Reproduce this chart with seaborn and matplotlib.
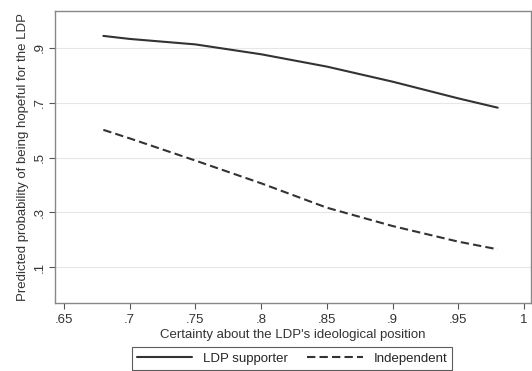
import pandas as pd
import numpy as np
import matplotlib
matplotlib.use("Agg")
import matplotlib.pyplot as plt
import seaborn as sns

# data
certainty = [0.68, 0.70, 0.75, 0.80, 0.85, 0.90, 0.95, 0.98]
ldp_supporter = [0.944, 0.933, 0.913, 0.877, 0.832, 0.777, 0.716, 0.682]
independent = [0.601, 0.570, 0.489, 0.406, 0.317, 0.250, 0.193, 0.165]
groups = ["LDP supporter", "Independent"]

df = pd.DataFrame({
    "x": certainty * 2,
    "y": ldp_supporter + independent,
    "group": [groups[0]] * len(certainty) + [groups[1]] * len(certainty),
})

sns.set_theme(style="white")
plt.rcParams["font.family"] = ["Liberation Sans", "DejaVu Sans"]

fig = plt.figure(figsize=(5.32, 3.71), dpi=100)
ax = fig.add_axes([0.1034, 0.1833, 0.8946, 0.7871])

sns.lineplot(data=df, x="x", y="y", style="group", style_order=groups,
             dashes={groups[0]: "", groups[1]: (4, 2)},
             color="#333333", linewidth=1.5, ax=ax, legend=True)

ax.set_xlim(0.6432, 1.0053)
ax.set_ylim(-0.031, 1.035)
xt = [0.65, 0.7, 0.75, 0.8, 0.85, 0.9, 0.95, 1.0]
ax.set_xticks(xt)
ax.set_xticklabels([".65", ".7", ".75", ".8", ".85", ".9", ".95", "1"])
yt = [0.1, 0.3, 0.5, 0.7, 0.9]
ax.set_yticks(yt)
ax.set_yticklabels([".1", ".3", ".5", ".7", ".9"], rotation=90, va="center")
ax.tick_params(axis="both", direction="out", length=4, width=0.8,
               color="#555555", labelsize=9.5, labelcolor="#333333",
               bottom=True, left=True)
ax.tick_params(axis="x", pad=4)
ax.tick_params(axis="y", pad=3)
for y in yt:
    ax.axhline(y, color="#e6e6e6", linewidth=0.8, zorder=0)
for s in ax.spines.values():
    s.set_color("#888888")
    s.set_linewidth(1.0)

ax.set_xlabel("Certainty about the LDP's ideological position", fontsize=9.5,
              color="#333333", labelpad=2)
ax.set_ylabel("Predicted probability of being hopeful for the LDP", fontsize=9.5,
              color="#333333", labelpad=3)

handles, labels = ax.get_legend_handles_labels()
ax.legend(handles, labels, loc="upper center", bbox_to_anchor=(0.498, -0.151),
          borderaxespad=0, ncol=2, frameon=True, fancybox=False,
          edgecolor="#333333", fontsize=9.5, handlelength=4.2,
          columnspacing=1.5, borderpad=0.4)
leg = ax.get_legend()
leg.get_frame().set_linewidth(0.8)

fig.savefig("out.png", dpi=100)
